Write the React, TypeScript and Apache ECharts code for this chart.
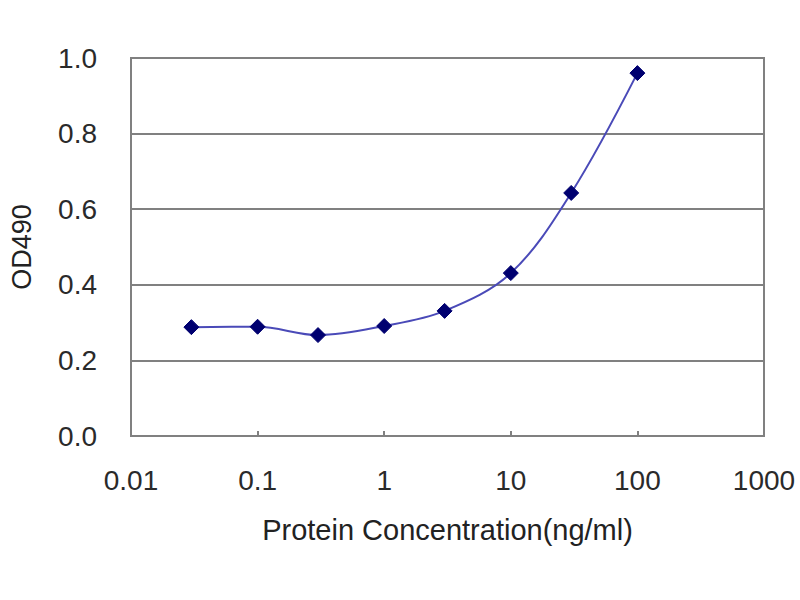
import React, { useEffect, useRef } from "react";
import * as echarts from "echarts";

const concentrations = [0.03, 0.1, 0.3, 1, 3, 10, 30, 100];
const od490 = [0.288, 0.289, 0.267, 0.291, 0.331, 0.431, 0.643, 0.96];
const xTickLabels = ["0.01", "0.1", "1", "10", "100", "1000"];
const xTitle = "Protein Concentration(ng/ml)";
const yTitle = "OD490";

export default function App() {
  const ref = useRef<HTMLDivElement>(null);
  useEffect(() => {
    if (!ref.current) return;
    const chart = echarts.init(ref.current, undefined, { renderer: "svg" });
    const font = "Arial, 'Liberation Sans', sans-serif";
    chart.setOption({
      animation: false,
      backgroundColor: "#ffffff",
      grid: {
        left: 127,
        top: 58,
        right: 36,
        bottom: 164,
        show: true,
        borderColor: "#808080",
        borderWidth: 2,
        backgroundColor: "transparent",
      },
      xAxis: {
        type: "log",
        logBase: 10,
        min: 0.01,
        max: 1000,
        name: xTitle,
        nameLocation: "middle",
        nameGap: 79,
        nameTextStyle: { fontFamily: font, fontSize: 29, color: "#222" },
        axisLine: { show: true, lineStyle: { color: "#808080", width: 2 } },
        axisTick: { show: true, inside: true, length: 5, lineStyle: { color: "#808080", width: 2 } },
        axisLabel: {
          margin: 30,
          fontFamily: font,
          fontSize: 28,
          color: "#2a2a2a",
          formatter: (_v: number, i: number) => xTickLabels[i] ?? "",
        },
        splitLine: { show: false },
        minorTick: { show: false },
      },
      yAxis: {
        type: "value",
        min: 0,
        max: 1,
        interval: 0.2,
        name: yTitle,
        nameLocation: "middle",
        nameGap: 96,
        nameRotate: 90,
        nameTextStyle: { fontFamily: font, fontSize: 27, color: "#222" },
        axisLine: { show: true, lineStyle: { color: "#808080", width: 2 } },
        axisTick: { show: true, inside: true, length: 5, lineStyle: { color: "#808080", width: 2 } },
        axisLabel: {
          margin: 34,
          fontFamily: font,
          fontSize: 28,
          color: "#2a2a2a",
          formatter: (v: number) => v.toFixed(1),
        },
        splitLine: { show: true, lineStyle: { color: "#808080", width: 2 } },
      },
      series: [
        {
          type: "line",
          data: concentrations.map((c, i) => [c, od490[i]]),
          smooth: 0.35,
          symbol: "diamond",
          symbolSize: 15,
          lineStyle: { color: "#4a4ab8", width: 2 },
          itemStyle: { color: "#000070", borderColor: "#000070" },
        },
      ],
    });
    return () => chart.dispose();
  }, []);
  return (
    <div
      ref={ref}
      style={{ position: "fixed", left: 0, top: 0, width: 800, height: 600, background: "#fff" }}
    />
  );
}
